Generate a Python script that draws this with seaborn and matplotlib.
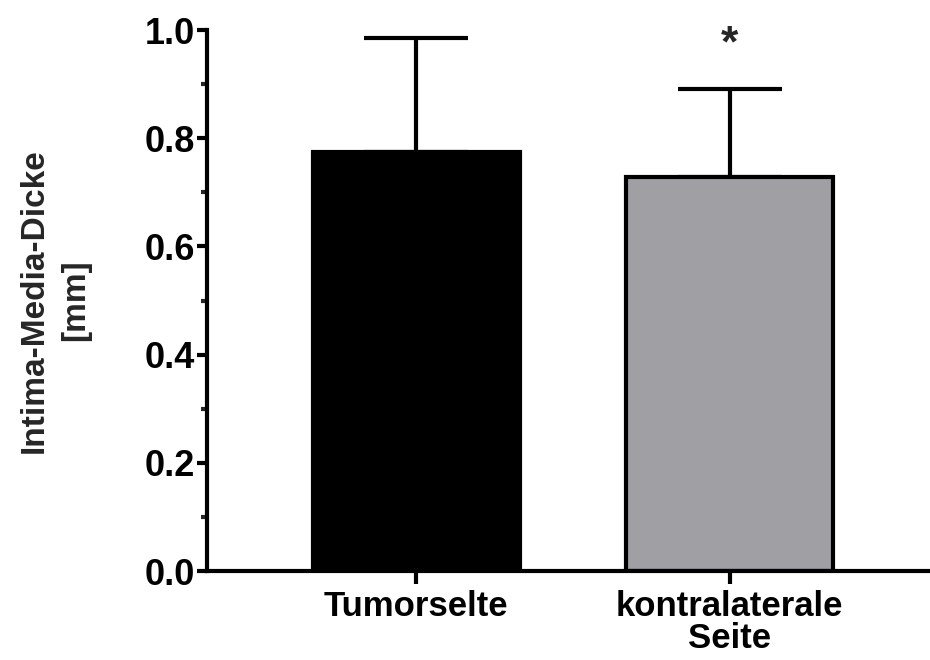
import matplotlib
matplotlib.use("Agg")
import matplotlib.pyplot as plt
import seaborn as sns
import pandas as pd
import numpy as np
from matplotlib.ticker import MultipleLocator

categories = ["Tumorselte", "kontralaterale\nSeite"]
means = [0.775, 0.728]
sd_upper = [0.210, 0.163]
bar_colors = ["#000000", "#a09fa4"]
yticks = [0.0, 0.2, 0.4, 0.6, 0.8, 1.0]
ylabel = "Intima-Media-Dicke\n[mm]"
sig_marks = ["", "*"]

sns.set_style("ticks")
plt.rcParams['font.family'] = ['Liberation Sans', 'DejaVu Sans']
plt.rcParams['font.weight'] = 'bold'

df = pd.DataFrame({"cat": categories, "val": means})

fig = plt.figure(figsize=(9.3, 6.6), dpi=100)
ax = fig.add_axes([0.2226, 0.1348, 0.7774, 0.8197])

sns.barplot(data=df, x="cat", y="val", hue="cat", palette=bar_colors,
            order=categories, hue_order=categories, legend=False,
            width=0.66, edgecolor="black", linewidth=3.0, errorbar=None,
            saturation=1, ax=ax)

pos = np.arange(len(categories))
ax.errorbar(pos, means, yerr=[np.zeros(len(means)), sd_upper], fmt="none",
            ecolor="black", elinewidth=3.0, capsize=37.5, capthick=3.0, zorder=1)
for p in ax.patches:
    p.set_zorder(2)

for x, m, e, s in zip(pos, means, sd_upper, sig_marks):
    if s:
        ax.text(x, 0.935, s, ha="center", va="bottom", fontsize=32,
                fontweight="bold", clip_on=False)

ax.set_xlim(-0.668, 1.64)
ax.set_ylim(0, 1.0)
ax.set_yticks(yticks)
ax.set_yticklabels([f"{t:.1f}" for t in yticks])
ax.yaxis.set_minor_locator(MultipleLocator(0.1))
ax.set_xlabel("")
ax.set_ylabel(ylabel, fontsize=24, fontweight="bold", labelpad=38, linespacing=1.45)

for sp in ["top", "right"]:
    ax.spines[sp].set_visible(False)
for sp in ["left", "bottom"]:
    ax.spines[sp].set_linewidth(3.0)
    ax.spines[sp].set_color("black")

ax.tick_params(axis="y", which="major", length=7, width=3.0, pad=2,
               labelsize=26, colors="black")
ax.tick_params(axis="y", which="minor", length=4, width=3.0)
ax.tick_params(axis="x", which="major", length=9, width=3.0, pad=5,
               labelsize=25, colors="black")
for lab in ax.get_xticklabels() + ax.get_yticklabels():
    lab.set_fontweight("bold")
for lab in ax.get_xticklabels():
    lab.set_linespacing(0.95)

fig.savefig("out.png", dpi=100)
